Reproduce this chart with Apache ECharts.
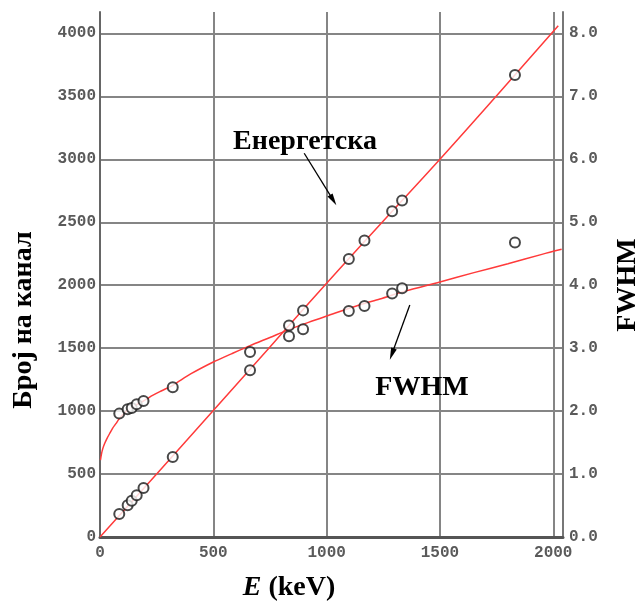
<!DOCTYPE html>
<html><head><meta charset="utf-8">
<script src="https://cdn.jsdelivr.net/npm/echarts@6/dist/echarts.min.js"></script>
<style>html,body{margin:0;padding:0;background:#fff}#c{width:635px;height:605px}</style>
</head><body><div id="c"></div>
<script>
// Measured points (energy in keV)
const energies = [85, 122, 140, 162, 192, 321, 662, 834, 896, 1098, 1167, 1289, 1333, 1831];
const channels = [183, 252, 288, 331, 390, 636, 1325, 1595, 1800, 2208, 2355, 2588, 2673, 3670];
const fwhm = [1.96, 2.03, 2.05, 2.11, 2.16, 2.38, 2.94, 3.36, 3.30, 3.59, 3.67, 3.87, 3.95, 4.68];
// Calibration curve
const calE = [0, 250, 500, 750, 1000, 1250, 1500, 1750, 2022];
const calCh = [0, 500, 1005, 1510, 2015, 2510, 3000, 3505, 4060];
// FWHM fit curve
const fitE = [2, 6, 12, 20, 30, 42, 56, 70, 85, 105, 129, 150, 176, 205, 232, 270, 321, 400, 500, 580, 662, 750, 830, 920, 1000, 1147, 1235, 1350, 1500, 1650, 1800, 1950, 2037];
const fitF = [1.22, 1.31, 1.40, 1.48, 1.56, 1.64, 1.73, 1.80, 1.88, 1.96, 2.03, 2.08, 2.13, 2.19, 2.25, 2.32, 2.41, 2.59, 2.78, 2.91, 3.04, 3.17, 3.29, 3.41, 3.51, 3.69, 3.78, 3.91, 4.05, 4.20, 4.34, 4.49, 4.57];
// Axis ticks
const xTicks = [0, 500, 1000, 1500, 2000];
const yTicks = [0, 500, 1000, 1500, 2000, 2500, 3000, 3500, 4000];
const y2Ticks = [0, 1, 2, 3, 4, 5, 6, 7, 8];
// Annotations
const labels = ['Енергетска', 'FWHM'];
const yTitle = 'Број на канал';
const y2Title = 'FWHM';

const X_MAX = 2043, Y_MAX = 4170, Y2_MAX = Y_MAX / 500;
const tickFont = {fontFamily: 'Liberation Mono', fontSize: 16, fontWeight: 'bold', color: '#5a5a5a'};
const serif = 'Liberation Serif';

const chart = echarts.init(document.getElementById('c'), null, {renderer: 'canvas'});
const hSplitColors = yTicks.map(() => '#858585').concat(['rgba(0,0,0,0)']);

const marker = {color: '#fff', borderColor: '#1a1a1a', borderWidth: 2};

chart.setOption({
  animation: false,
  backgroundColor: '#fff',
  grid: {left: 100, right: 72, top: 12, bottom: 68, containLabel: false},
  xAxis: {
    type: 'value', min: 0, max: X_MAX, interval: 500,
    axisLine: {show: true, onZero: false, lineStyle: {color: '#555', width: 3}},
    axisTick: {show: false},
    splitLine: {show: true, lineStyle: {color: '#858585', width: 2}},
    axisLabel: Object.assign({margin: 8, showMaxLabel: false,
      formatter: v => xTicks.includes(v) ? String(v) : ''}, tickFont)
  },
  yAxis: [{
    type: 'value', min: 0, max: Y_MAX, interval: 500, position: 'left',
    axisLine: {show: true, lineStyle: {color: '#666', width: 2}},
    axisTick: {show: false},
    splitLine: {show: true, lineStyle: {color: hSplitColors, width: 2}},
    axisLabel: Object.assign({margin: 4, showMaxLabel: false,
      formatter: v => yTicks.includes(v) ? String(v) : ''}, tickFont)
  }, {
    type: 'value', min: 0, max: Y2_MAX, interval: 1, position: 'right',
    axisLine: {show: true, lineStyle: {color: '#777', width: 2}},
    axisTick: {show: false},
    splitLine: {show: false},
    axisLabel: Object.assign({margin: 6, showMaxLabel: false,
      formatter: v => y2Ticks.some(t => Math.abs(t - v) < 1e-6) ? v.toFixed(1) : ''}, tickFont)
  }],
  series: [{
    type: 'line', yAxisIndex: 0, showSymbol: false, smooth: true, z: 3,
    lineStyle: {color: '#ff3a3a', width: 1.5},
    data: calE.map((e, i) => [e, calCh[i]]),
    markLine: {
      silent: true, symbol: ['none', 'triangle'], symbolSize: [6, 12],
      label: {show: false},
      lineStyle: {color: '#000', width: 1.3, type: 'solid'},
      data: [
        [{coord: [901, 3048]}, {coord: [1029, 2676]}],
        [{coord: [1367, 1842]}, {coord: [1288, 1453]}]
      ]
    }
  }, {
    type: 'line', yAxisIndex: 1, showSymbol: false, smooth: 0.3, z: 3,
    lineStyle: {color: '#ff3a3a', width: 1.5},
    data: fitE.map((e, i) => [e, fitF[i]])
  }, {
    type: 'scatter', yAxisIndex: 0, symbol: 'circle', symbolSize: 10, z: 5,
    itemStyle: marker,
    data: energies.map((e, i) => [e, channels[i]])
  }, {
    type: 'scatter', yAxisIndex: 1, symbol: 'circle', symbolSize: 10, z: 5,
    itemStyle: marker,
    data: energies.map((e, i) => [e, fwhm[i]])
  }],
  graphic: [
    {type: 'text', x: 305, y: 142, z: 10, style: {text: labels[0], font: 'bold 28px "Liberation Serif"', fill: '#000', textAlign: 'center', textVerticalAlign: 'middle'}},
    {type: 'text', x: 422, y: 388, z: 10, style: {text: labels[1], font: 'bold 28px "Liberation Serif"', fill: '#000', textAlign: 'center', textVerticalAlign: 'middle'}},
    {type: 'text', x: 24, y: 320, rotation: Math.PI / 2, z: 10, style: {text: yTitle, font: 'bold 28px "Liberation Serif"', fill: '#000', textAlign: 'center', textVerticalAlign: 'middle'}},
    {type: 'text', x: 628, y: 285, rotation: Math.PI / 2, z: 10, style: {text: y2Title, font: 'bold 28px "Liberation Serif"', fill: '#000', textAlign: 'center', textVerticalAlign: 'middle'}},
    {type: 'text', x: 289, y: 588, z: 10, style: {
      text: '{i|E} (keV)', fontFamily: serif, fontSize: 28, fontWeight: 'bold', fill: '#000',
      textAlign: 'center', textVerticalAlign: 'middle',
      rich: {i: {fontStyle: 'italic', fontWeight: 'bold', fontFamily: serif, fontSize: 28}}
    }}
  ]
});
</script>
</body></html>
